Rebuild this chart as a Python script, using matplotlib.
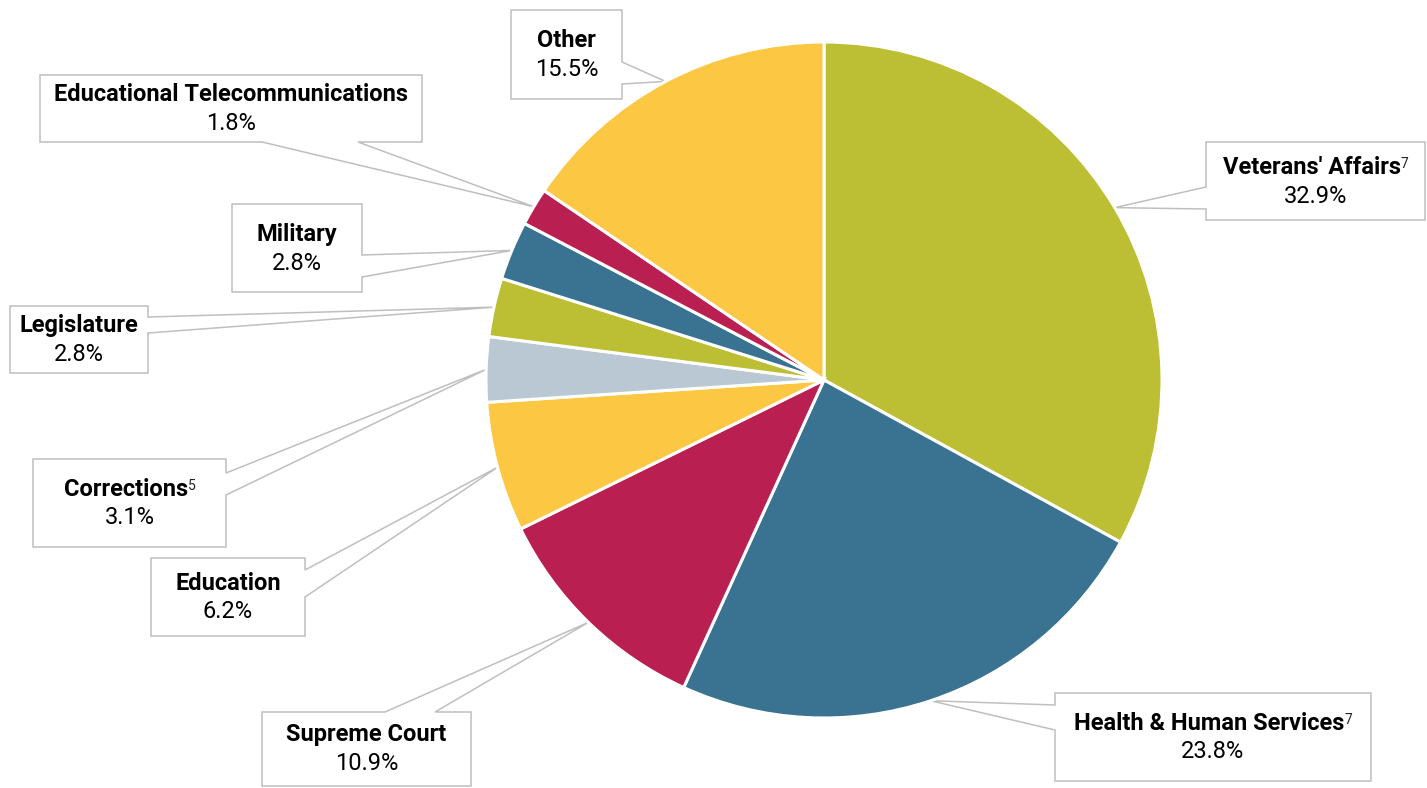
"""
Pie chart of shares by department, with boxed callout labels.
"""

import numpy as np
import matplotlib
matplotlib.use("Agg")
import matplotlib.pyplot as plt
from matplotlib.patches import Polygon

plt.rcParams["font.family"] = ["Roboto", "DejaVu Sans"]

# data, clockwise from 12 o'clock
departments = ["Veterans' Affairs", "Health & Human Services", "Supreme Court",
               "Education", "Corrections", "Legislature", "Military",
               "Educational Telecommunications", "Other"]
footnotes   = ["7", "7", "", "", "5", "", "", "", ""]
shares      = [32.9, 23.8, 10.9, 6.2, 3.1, 2.8, 2.8, 1.8, 15.5]

OLIVE, TEAL, CRIMSON, YELLOW, SLATE = "#BCBF34", "#3A7391", "#BA1F52", "#FCC743", "#B9C8D3"
colors = [OLIVE, TEAL, CRIMSON, YELLOW, SLATE, OLIVE, TEAL, CRIMSON, YELLOW]

# callout layout in pixels from the top-left: box (x0, y0, x1, y1), side, base span
W, H = 1427, 788
boxes = [
    ((1206, 142, 1425, 220), "left",   (187, 209)),
    ((1055, 693, 1371, 781), "left",   (705, 730)),
    ((262, 712, 471, 786),   "top",    (385, 435)),
    ((151, 558, 305, 636),   "right",  (570, 597)),
    ((33, 459, 226, 547),    "right",  (473, 495)),
    ((10, 306, 148, 373),    "right",  (317, 333)),
    ((232, 204, 362, 292),   "right",  (255, 277)),
    ((40, 75, 422, 142),     "bottom", (262, 358)),
    ((511, 10, 622, 99),     "right",  (62, 84)),
]

EDGE = "#BFBFBF"
FS = 17


def callout_poly(box, side, span, tip):
    x0, y0, x1, y1 = box
    b1, b2 = span
    tl, tr, br, bl = (x0, y0), (x1, y0), (x1, y1), (x0, y1)
    if side == "top":
        pts = [tl, (b1, y0), tip, (b2, y0), tr, br, bl]
    elif side == "right":
        pts = [tl, tr, (x1, b1), tip, (x1, b2), br, bl]
    elif side == "bottom":
        pts = [tl, tr, br, (b2, y1), tip, (b1, y1), bl]
    else:
        pts = [tl, tr, br, bl, (x0, b2), tip, (x0, b1)]
    return [(x, H - y) for x, y in pts]


fig = plt.figure(figsize=(W / 100, H / 100), dpi=100)
ax = fig.add_axes([0, 0, 1, 1])

wedges, _ = ax.pie(shares, colors=colors, startangle=90, counterclock=False,
                   center=(824, H - 380), radius=338, frame=True,
                   wedgeprops=dict(edgecolor="white", linewidth=2.2))
ax.set_xlim(0, W)
ax.set_ylim(0, H)
ax.axis("off")

fig.canvas.draw()
renderer = fig.canvas.get_renderer()

for w, name, fn, val, (box, side, span) in zip(wedges, departments, footnotes, shares, boxes):
    mid = np.deg2rad((w.theta1 + w.theta2) / 2)
    cx, cy = w.center
    tip = (cx + w.r * np.cos(mid), H - (cy + w.r * np.sin(mid)))
    poly = Polygon(callout_poly(box, side, span, tip), closed=True,
                   facecolor="white", edgecolor=EDGE, linewidth=1.1, zorder=0.5)
    ax.add_patch(poly)

    x0, y0, x1, y1 = box
    xc = (x0 + x1) / 2
    yc = H - (y0 + y1) / 2
    sup_w = 0
    if fn:
        sup = ax.text(0, 0, fn, fontsize=10, color="#222222")
        sup_w = sup.get_window_extent(renderer).width
        sup.remove()
    lbl = ax.text(xc - sup_w / 2, yc + 14, name, ha="center", va="center",
                  fontsize=FS, fontweight="bold", color="black")
    if fn:
        ax.annotate(fn, xy=(1, 0.92), xycoords=lbl, ha="left", va="top",
                    fontsize=10, color="#222222")
    ax.text(xc, yc - 15, f"{val:.1f}%", ha="center", va="center",
            fontsize=FS, color="black")

fig.savefig("out.png", dpi=100)
